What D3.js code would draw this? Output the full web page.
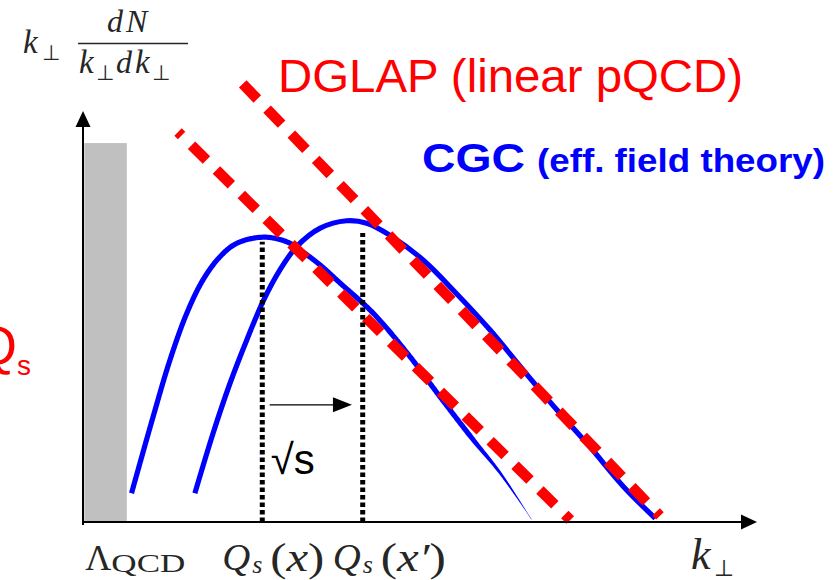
<!DOCTYPE html>
<html>
<head>
<meta charset="utf-8">
<script src="https://cdn.jsdelivr.net/npm/d3@7"></script>
<style>
  html, body { margin: 0; padding: 0; background: #fff; }
  svg { display: block; }
</style>
</head>
<body>
<svg id="chart" width="833" height="580"></svg>
<script>
// ---------------- data (schematic units) ----------------
const lambdaK = [0.02, 0.65];          // Lambda_QCD band (k range)
const lambdaTop = [9.22];              // band height
const cgc1K = [0.72,1.04,1.29,1.54,1.78,2.03,2.28,2.68,3.02,3.22,3.52,3.81,4.30,4.81,5.30,5.79,6.19,6.66];
const cgc1Y = [0.70,2.56,3.94,5.08,5.89,6.45,6.78,6.93,6.82,6.62,6.25,5.82,5.09,4.11,3.04,2.00,1.19,0.05];
const cgc2K = [1.66,1.93,2.18,2.43,2.68,2.92,3.17,3.52,3.91,4.21,4.55,5.05,5.54,6.04,6.53,7.03,7.52,8.02,8.49];
const cgc2Y = [0.70,2.16,3.37,4.43,5.40,6.13,6.70,7.15,7.33,7.27,6.98,6.37,5.56,4.67,3.70,2.73,1.83,0.86,0.09];
const dglap1K = [1.41, 7.23];
const dglap1Y = [9.49, 0.05];
const dglap2K = [2.37, 8.56];
const dglap2Y = [10.66, 0.15];
const satK = [2.66, 4.15];             // Q_s(x), Q_s(x')
const satTop = [6.82, 7.03];
const shiftK = [2.77, 3.99];           // sqrt(s) arrow
const shiftY = [2.85];
const tickMain = ["Λ", "Q", "Q"];
const tickSub = ["QCD", "s", "s"];
const tickArg = ["", "(x)", "(x′)"];

// ---------------- scales ----------------
const svg = d3.select("#chart");
const x = d3.scaleLinear().domain([0, 10]).range([83, 757]);
const y = d3.scaleLinear().domain([0, 10]).range([522, 111]);

const BLUE = "#0000ff", RED = "#ff0000";
const line = d3.line().x(d => x(d[0])).y(d => y(d[1])).curve(d3.curveCatmullRom.alpha(0.5));

// gray Lambda_QCD band
svg.append("rect")
  .attr("x", x(lambdaK[0])).attr("y", y(lambdaTop[0]))
  .attr("width", x(lambdaK[1]) - x(lambdaK[0]))
  .attr("height", y(0) - y(lambdaTop[0]))
  .attr("fill", "#c0c0c0");

// CGC curve 1 (with tapered tail)
const c1 = cgc1K.map((k, i) => [k, cgc1Y[i]]);
const hidden = svg.append("path").attr("d", line(c1)).attr("fill", "none").attr("stroke", "none");
const node = hidden.node();
const L = node.getTotalLength();
let s0 = L;
for (let s = 0; s <= L; s += 1) { if (node.getPointAtLength(s).x >= x(5.72)) { s0 = s; break; } }
const left = [], right = [];
for (let s = 0; s <= L + 0.001; s += 1) {
  const sc = Math.min(s, L);
  const p = node.getPointAtLength(sc);
  const pa = node.getPointAtLength(Math.max(0, sc - 1));
  const pb = node.getPointAtLength(Math.min(L, sc + 1));
  let tx = pb.x - pa.x, ty = pb.y - pa.y;
  const n = Math.hypot(tx, ty) || 1; tx /= n; ty /= n;
  let hw = 2.6;
  if (sc > s0) hw = 2.6 * Math.max(0.08, (L - sc) / (L - s0));
  left.push([p.x - ty * hw, p.y + tx * hw]);
  right.push([p.x + ty * hw, p.y - tx * hw]);
}
hidden.remove();
svg.append("path")
  .attr("d", "M" + left.concat(right.reverse()).map(p => p[0].toFixed(2) + "," + p[1].toFixed(2)).join("L") + "Z")
  .attr("fill", BLUE);

// CGC curve 2
const c2 = cgc2K.map((k, i) => [k, cgc2Y[i]]);
svg.append("path").attr("d", line(c2))
  .attr("fill", "none").attr("stroke", BLUE).attr("stroke-width", 5.2).attr("stroke-linecap", "butt");

// DGLAP dashed lines
const straight = d3.line().x(d => x(d[0])).y(d => y(d[1]));
[[dglap1K, dglap1Y, 16], [dglap2K, dglap2Y, 0]].forEach(([ks, ys, off]) => {
  svg.append("path").attr("d", straight(ks.map((k, i) => [k, ys[i]])))
    .attr("fill", "none").attr("stroke", RED).attr("stroke-width", 10.5)
    .attr("stroke-dasharray", "21,14").attr("stroke-dashoffset", off)
    .attr("stroke-linecap", "butt");
});

// dotted saturation lines
satK.forEach((k, i) => {
  svg.append("line")
    .attr("x1", x(k)).attr("x2", x(k))
    .attr("y1", y(0)).attr("y2", y(satTop[i]))
    .attr("stroke", "#000").attr("stroke-width", 5)
    .attr("stroke-dasharray", "4.5,3");
});

// sqrt(s) shift arrow
const ay = y(shiftY[0]);
svg.append("line").attr("x1", x(shiftK[0])).attr("x2", x(shiftK[1]) - 17)
  .attr("y1", ay).attr("y2", ay).attr("stroke", "#000").attr("stroke-width", 1.3);
svg.append("path")
  .attr("d", `M${x(shiftK[1])},${ay}L${x(shiftK[1]) - 19},${ay - 7.5}L${x(shiftK[1]) - 19},${ay + 7.5}Z`)
  .attr("fill", "#000");
svg.append("text").attr("x", x(shiftK[0]) + 1).attr("y", ay + 69)
  .attr("font-family", "Liberation Sans, Arial, sans-serif").attr("font-size", 42)
  .attr("fill", "#000").text("√s");

// axes
svg.append("line").attr("x1", x(0)).attr("x2", x(0)).attr("y1", y(0) + 3).attr("y2", y(10) + 15)
  .attr("stroke", "#000").attr("stroke-width", 2);
svg.append("path").attr("d", `M${x(0)},${y(10)}L${x(0) - 7.5},${y(10) + 16}L${x(0) + 7.5},${y(10) + 16}Z`).attr("fill", "#000");
svg.append("line").attr("x1", x(0) - 1).attr("x2", x(10) - 15).attr("y1", y(0)).attr("y2", y(0))
  .attr("stroke", "#000").attr("stroke-width", 2);
svg.append("path").attr("d", `M${x(10)},${y(0)}L${x(10) - 16},${y(0) - 7.5}L${x(10) - 16},${y(0) + 7.5}Z`).attr("fill", "#000");

// ---------------- text ----------------
const SERIF = "Liberation Serif, 'DejaVu Serif', serif";
const MATH = "#262626";
function t(xp, yp, str, size, opts = {}) {
  const el = svg.append("text").attr("x", xp).attr("y", yp)
    .attr("font-family", opts.family || SERIF).attr("font-size", size)
    .attr("font-style", opts.italic ? "italic" : "normal")
    .attr("font-weight", opts.bold ? "bold" : "normal")
    .attr("fill", opts.fill || MATH).text(str);
  if (opts.len) el.attr("textLength", opts.len).attr("lengthAdjust", "spacingAndGlyphs");
  return el;
}

// y-axis label  k⊥ dN / (k⊥ dk⊥)
t(23, 53, "k", 33, { italic: true });
t(42, 60, "⊥", 21, { family: "DejaVu Sans" });
t(107, 32, "d", 32, { italic: true });
t(126, 32, "N", 32, { italic: true });
svg.append("line").attr("x1", 78).attr("x2", 188).attr("y1", 43.5).attr("y2", 43.5)
  .attr("stroke", MATH).attr("stroke-width", 1.5);
t(79, 73, "k", 33, { italic: true });
t(96, 80, "⊥", 21, { family: "DejaVu Sans" });
t(116, 73, "d", 32, { italic: true });
t(135, 73, "k", 33, { italic: true });
t(152, 80, "⊥", 21, { family: "DejaVu Sans" });

// x tick labels
const tickAnchor = [x(lambdaK[0]) + 1, x(satK[0]) - 40, x(satK[1]) - 30];
tickMain.forEach((m, i) => {
  const x0 = tickAnchor[i];
  if (i === 0) {
    t(x0, 570, m, 36);
    t(x0 + 26, 572, tickSub[i], 25, { len: 74 });
  } else {
    t(x0, 570, m, 37, { italic: true, len: 28 });
    t(x0 + 30, 573, tickSub[i], 26, { italic: true });
    const argEl = svg.append("text").attr("x", x0 + 48).attr("y", 571)
      .attr("font-family", SERIF).attr("font-size", 39).attr("fill", MATH)
      .attr("textLength", i === 1 ? 54 : 65).attr("lengthAdjust", "spacingAndGlyphs");
    argEl.append("tspan").text("(");
    argEl.append("tspan").attr("font-style", "italic").text(tickArg[i].slice(1, -1));
    argEl.append("tspan").text(")");
  }
});
// k⊥ axis label
t(691, 569, "k", 44, { italic: true });
t(714, 576, "⊥", 23, { family: "DejaVu Sans" });

// annotations
t(278, 92, "DGLAP (linear pQCD)", 47, { family: "Liberation Sans, Arial, sans-serif", fill: RED, len: 465 });
t(422, 172, "CGC", 41, { family: "Liberation Sans, Arial, sans-serif", fill: BLUE, bold: true, len: 103 });
t(537, 172, "(eff. field theory)", 34, { family: "Liberation Sans, Arial, sans-serif", fill: BLUE, bold: true, len: 288 });
t(-25, 364, "Q", 54, { family: "Liberation Sans, Arial, sans-serif", fill: RED });
t(17, 375, "s", 28, { family: "Liberation Sans, Arial, sans-serif", fill: RED });
</script>
</body>
</html>
